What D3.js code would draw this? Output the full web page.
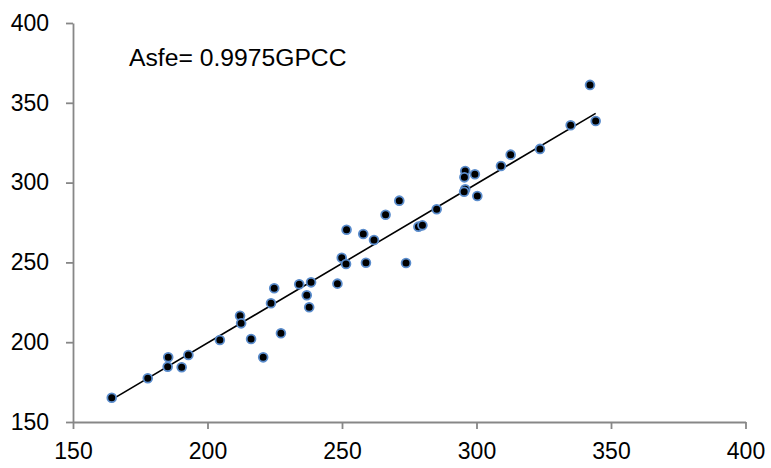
<!DOCTYPE html>
<html>
<head>
<meta charset="utf-8">
<script src="https://cdn.jsdelivr.net/npm/d3@7"></script>
<style>
  body { margin: 0; background: #fff; }
  .axis path, .axis line { stroke: #878787; stroke-width: 1.8; }
  .axis text { font-family: "Liberation Sans", Arial, sans-serif; font-size: 23px; fill: #000; }
</style>
</head>
<body>
<div id="chart"></div>
<script>
// GPCC (x) vs Asfe (y)
const gpcc = [164.4, 177.8, 185.4, 185.2, 190.4, 192.9, 204.6, 212.1, 212.5, 216.2,
              220.7, 224.8, 223.6, 227.3, 234.1, 238.5, 236.9, 237.8, 248.3, 249.9,
              251.5, 251.7, 257.9, 261.9, 258.9, 266.2, 271.3, 273.8, 278.4, 279.9,
              285.2, 295.8, 295.5, 299.4, 295.8, 295.4, 300.3, 309.1, 312.7, 323.6,
              335.0, 342.2, 344.3];
const asfe = [165.2, 177.4, 190.5, 184.6, 184.3, 192.0, 201.4, 216.6, 211.8, 202.0,
              190.5, 233.8, 224.4, 205.6, 236.3, 237.5, 229.4, 221.9, 236.7, 252.9,
              249.0, 270.5, 267.8, 264.0, 249.8, 279.9, 288.7, 249.6, 272.4, 273.2,
              283.3, 307.3, 303.3, 305.2, 295.8, 294.3, 291.6, 310.4, 317.5, 321.1,
              335.9, 361.2, 338.6];

// trend line endpoints (Asfe = 0.9975 GPCC)
const trendX = [164.4, 344.3];
const trendY = [164.0, 343.4];

const xTicks = [150, 200, 250, 300, 350, 400];
const yTicks = [150, 200, 250, 300, 350, 400];
const label = "Asfe= 0.9975GPCC";

const W = 771, H = 468;
const margin = { top: 23, right: 25.5, bottom: 46, left: 73 };
const width = W - margin.left - margin.right;
const height = H - margin.top - margin.bottom;

const svg = d3.select("#chart").append("svg")
    .attr("width", W)
    .attr("height", H)
    .append("g")
    .attr("transform", "translate(" + margin.left + "," + margin.top + ")");

const x = d3.scaleLinear().domain([150, 400]).range([0, width]);
const y = d3.scaleLinear().domain([150, 400]).range([height, 0]);

// axes
svg.append("g")
    .attr("class", "axis x-axis")
    .attr("transform", "translate(0," + height + ")")
    .call(d3.axisBottom(x).tickValues(xTicks).tickSize(7).tickSizeOuter(0).tickPadding(14));

svg.append("g")
    .attr("class", "axis y-axis")
    .call(d3.axisLeft(y).tickValues(yTicks).tickSize(7).tickSizeOuter(0).tickPadding(17));

// trend line
const line = d3.line()
    .x(d => x(d[0]))
    .y(d => y(d[1]));

svg.append("path")
    .datum(trendX.map((v, i) => [v, trendY[i]]))
    .attr("fill", "none")
    .attr("stroke", "#000")
    .attr("stroke-width", 1.6)
    .attr("d", line);

// points
svg.selectAll(".dot")
    .data(gpcc.map((v, i) => ({ x: v, y: asfe[i] })))
    .enter().append("circle")
    .attr("class", "dot")
    .attr("cx", d => x(d.x))
    .attr("cy", d => y(d.y))
    .attr("r", 4.4)
    .attr("fill", "#000")
    .attr("stroke", "#5a8ccc")
    .attr("stroke-width", 1.8);

// equation label
svg.append("text")
    .attr("x", 56)
    .attr("y", 43)
    .style("font-family", "'Liberation Sans', Arial, sans-serif")
    .style("font-size", "24.7px")
    .text(label);
</script>
</body>
</html>
